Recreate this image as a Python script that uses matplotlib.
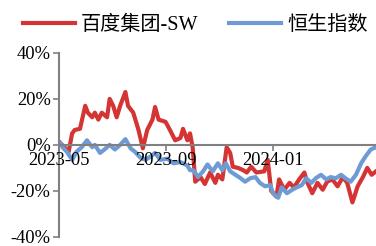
import numpy as np
import pandas as pd
import matplotlib
matplotlib.use("Agg")
from matplotlib import pyplot as plt
import matplotlib.dates as mdates
from matplotlib.ticker import FuncFormatter

# Baidu (red) - cumulative return, %
red_dates = ["2023-05-02", "2023-05-12", "2023-05-16", "2023-05-19", "2023-05-25", "2023-05-31",
             "2023-06-03", "2023-06-08", "2023-06-11", "2023-06-15", "2023-06-19", "2023-06-25",
             "2023-06-28", "2023-07-02", "2023-07-06", "2023-07-10", "2023-07-16", "2023-07-19",
             "2023-07-25", "2023-07-31", "2023-08-05", "2023-08-10", "2023-08-16", "2023-08-19",
             "2023-08-23", "2023-08-31", "2023-09-05", "2023-09-11", "2023-09-17", "2023-09-20",
             "2023-09-25", "2023-09-28", "2023-10-01", "2023-10-04", "2023-10-10", "2023-10-15",
             "2023-10-21", "2023-10-27", "2023-10-30", "2023-11-04", "2023-11-09", "2023-11-13",
             "2023-11-16", "2023-11-22", "2023-11-28", "2023-12-02", "2023-12-07", "2023-12-13",
             "2023-12-22", "2023-12-26", "2023-12-30", "2024-01-05", "2024-01-08", "2024-01-14",
             "2024-01-20", "2024-01-25", "2024-01-31", "2024-02-06", "2024-02-09", "2024-02-15",
             "2024-02-21", "2024-02-27", "2024-03-03", "2024-03-09", "2024-03-15", "2024-03-21",
             "2024-03-26", "2024-04-01", "2024-04-07", "2024-04-13", "2024-04-18", "2024-04-23",
             "2024-04-28"]
red_vals = [1, -3, 5, 6.5, 7, 17,
            14, 12, 14, 11, 14, 12,
            20, 17, 12, 17, 23, 17,
            14, 6.5, -1.5, 6.5, 11, 16.5,
            11, 10, 6.5, 2, 3, 7,
            2, 5, -1, -16, -14, -17,
            -12, -16.5, -13, -15, -1, -3.5,
            -9.5, -10, -11, -12, -9.5, -12,
            -11.5, -6.5, -20, -22.5, -15, -19.5,
            -16.5, -18.5, -15, -12, -16, -21,
            -16.5, -19.5, -16, -15, -18, -14,
            -16.5, -25, -18, -14, -10, -13,
            -11.5]

# Hang Seng Index (blue) - cumulative return, %
blue_dates = ["2023-05-02", "2023-05-05", "2023-05-10", "2023-05-16", "2023-05-21", "2023-05-27",
              "2023-06-02", "2023-06-08", "2023-06-11", "2023-06-17", "2023-06-22", "2023-06-28",
              "2023-07-04", "2023-07-10", "2023-07-16", "2023-07-22", "2023-07-27", "2023-08-02",
              "2023-08-08", "2023-08-14", "2023-08-19", "2023-08-25", "2023-09-02", "2023-09-09",
              "2023-09-17", "2023-09-20", "2023-09-25", "2023-09-28", "2023-10-02", "2023-10-07",
              "2023-10-13", "2023-10-18", "2023-10-24", "2023-10-30", "2023-11-04", "2023-11-08",
              "2023-11-13", "2023-11-19", "2023-11-25", "2023-11-30", "2023-12-06", "2023-12-12",
              "2023-12-17", "2023-12-23", "2023-12-29", "2024-01-01", "2024-01-07", "2024-01-11",
              "2024-01-17", "2024-01-23", "2024-01-28", "2024-02-03", "2024-02-08", "2024-02-14",
              "2024-02-19", "2024-02-25", "2024-03-02", "2024-03-07", "2024-03-13", "2024-03-19",
              "2024-03-24", "2024-03-30", "2024-04-05", "2024-04-11", "2024-04-16", "2024-04-22",
              "2024-04-28"]
blue_vals = [1, -1, -3, -6.5, -3, -1,
             2, -1, 0, -3.5, -2, 0,
             -2, 0, 2.5, -1.5, -3, -5.5,
             -6.5, -5, -3.5, -6.5, -6, -8,
             -7.5, -8, -9, -11, -11, -14,
             -11.5, -8.5, -11.5, -8, -11, -8,
             -11.5, -13, -14.5, -16, -14.5, -14,
             -16.5, -18, -17.5, -21, -23, -18.5,
             -21, -19.5, -18.5, -17.5, -14.5, -16.5,
             -14.5, -13, -15, -14, -14.5, -13,
             -14.5, -16, -13, -8, -5, -2,
             -1]

x_ticks = ["2023-05-01", "2023-09-01", "2024-01-01"]
y_ticks = [-40, -20, 0, 20, 40]

red = "#d43434"
blue = "#6f9bd4"
gray = "#808080"
font_list = ["Liberation Serif", "Noto Sans CJK SC"]
plt.rcParams["font.family"] = font_list

fig = plt.figure(figsize=(3.76, 2.46), dpi=100)
ax = fig.add_axes([0.157, 0.037, 0.843, 0.748])

ax.plot(pd.to_datetime(red_dates), red_vals, color=red, lw=3.0,
        solid_joinstyle="round", label="百度集团-SW", zorder=2)
ax.plot(pd.to_datetime(blue_dates), blue_vals, color=blue, lw=3.0,
        solid_joinstyle="round", label="恒生指数", zorder=2.1)

ax.set_ylim(-40, 40)
ax.set_xlim(pd.Timestamp(x_ticks[0]), pd.Timestamp(red_dates[-1]))
ax.set_yticks(y_ticks)
ax.yaxis.set_major_formatter(FuncFormatter(lambda v, p: f"{v:.0f}%"))
ax.set_xticks(pd.to_datetime(x_ticks))
ax.xaxis.set_major_formatter(mdates.DateFormatter("%Y-%m"))

ax.spines["top"].set_visible(False)
ax.spines["right"].set_visible(False)
ax.spines["bottom"].set_position(("data", 0))
for s in ["left", "bottom"]:
    ax.spines[s].set_color(gray)
    ax.spines[s].set_linewidth(1.5)
ax.set_axisbelow(False)
ax.tick_params(axis="y", direction="out", length=4, width=1.2, color=gray,
               labelsize=13.3, pad=2)
ax.tick_params(axis="x", direction="out", length=4, width=1.2, color=gray,
               labelsize=13.3, pad=1)
ax.patch.set_visible(False)

fig.legend(loc="upper left", bbox_to_anchor=(0.012, 1.01), ncol=2, frameon=False,
           fontsize=14.5, handlelength=2.6, handletextpad=0.3, columnspacing=1.5)

fig.savefig("out.png", dpi=100)
